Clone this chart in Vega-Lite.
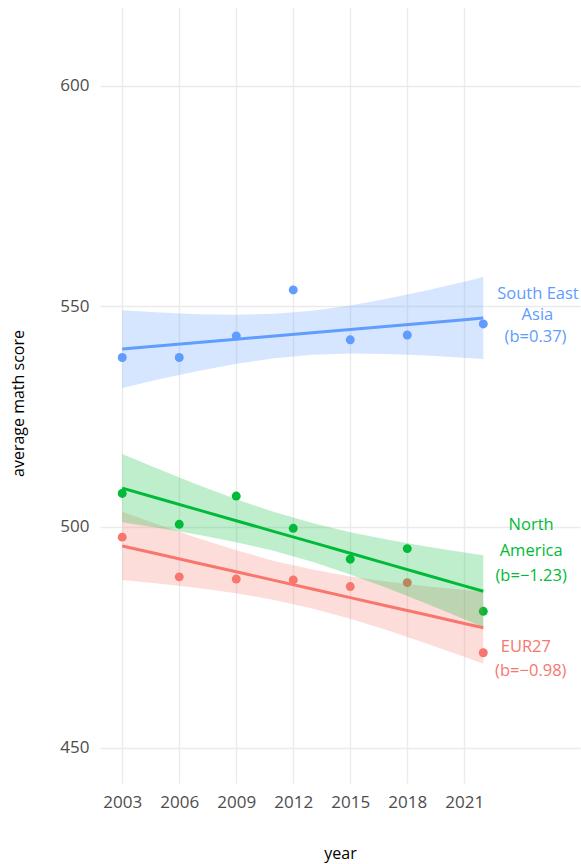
{
  "$schema": "https://vega.github.io/schema/vega-lite/v6.json",
  "width": 480,
  "height": 776,
  "autosize": {"type": "none"},
  "padding": {"left": 100, "top": 7, "right": 1, "bottom": 81},
  "background": "#ffffff",
  "config": {
    "view": {"stroke": null},
    "font": "Open Sans",
    "axis": {
      "grid": true,
      "gridColor": "#EBEBEB",
      "gridWidth": 1.4,
      "domain": false,
      "ticks": false,
      "tickSize": 0,
      "labelFont": "Open Sans",
      "labelFontSize": 17,
      "labelColor": "#4D4D4D",
      "titleFont": "Open Sans",
      "titleFontSize": 16,
      "titleFontWeight": "normal",
      "titleColor": "#000000"
    }
  },
  "datasets": {
    "pts": [
      {"region": "EUR27", "year": 2003, "score": 497.7},
      {"region": "EUR27", "year": 2006, "score": 488.7},
      {"region": "EUR27", "year": 2009, "score": 488.2},
      {"region": "EUR27", "year": 2012, "score": 488.0},
      {"region": "EUR27", "year": 2015, "score": 486.5},
      {"region": "EUR27", "year": 2018, "score": 487.4},
      {"region": "EUR27", "year": 2022, "score": 471.5},
      {"region": "North America", "year": 2003, "score": 507.6},
      {"region": "North America", "year": 2006, "score": 500.6},
      {"region": "North America", "year": 2009, "score": 507.0},
      {"region": "North America", "year": 2012, "score": 499.7},
      {"region": "North America", "year": 2015, "score": 492.7},
      {"region": "North America", "year": 2018, "score": 495.1},
      {"region": "North America", "year": 2022, "score": 480.9},
      {"region": "South East Asia", "year": 2003, "score": 538.4},
      {"region": "South East Asia", "year": 2006, "score": 538.4},
      {"region": "South East Asia", "year": 2009, "score": 543.3},
      {"region": "South East Asia", "year": 2012, "score": 553.7},
      {"region": "South East Asia", "year": 2015, "score": 542.4},
      {"region": "South East Asia", "year": 2018, "score": 543.5},
      {"region": "South East Asia", "year": 2022, "score": 546.0}
    ],
    "fits": [
      {"region": "EUR27", "year": 2003, "fit": 495.70, "lo": 487.97, "hi": 503.43},
      {"region": "EUR27", "year": 2005, "fit": 493.75, "lo": 487.13, "hi": 500.37},
      {"region": "EUR27", "year": 2007, "fit": 491.80, "lo": 486.16, "hi": 497.44},
      {"region": "EUR27", "year": 2009, "fit": 489.85, "lo": 484.98, "hi": 494.72},
      {"region": "EUR27", "year": 2011, "fit": 487.90, "lo": 483.48, "hi": 492.32},
      {"region": "EUR27", "year": 2013, "fit": 485.95, "lo": 481.56, "hi": 490.34},
      {"region": "EUR27", "year": 2015, "fit": 484.00, "lo": 479.22, "hi": 488.78},
      {"region": "EUR27", "year": 2017, "fit": 482.05, "lo": 476.53, "hi": 487.57},
      {"region": "EUR27", "year": 2019, "fit": 480.10, "lo": 473.63, "hi": 486.57},
      {"region": "EUR27", "year": 2021, "fit": 478.15, "lo": 470.59, "hi": 485.71},
      {"region": "EUR27", "year": 2022, "fit": 477.18, "lo": 469.03, "hi": 485.33},
      {"region": "North America", "year": 2003, "fit": 508.80, "lo": 501.07, "hi": 516.53},
      {"region": "North America", "year": 2005, "fit": 506.34, "lo": 499.72, "hi": 512.96},
      {"region": "North America", "year": 2007, "fit": 503.88, "lo": 498.24, "hi": 509.52},
      {"region": "North America", "year": 2009, "fit": 501.42, "lo": 496.55, "hi": 506.29},
      {"region": "North America", "year": 2011, "fit": 498.96, "lo": 494.54, "hi": 503.38},
      {"region": "North America", "year": 2013, "fit": 496.50, "lo": 492.11, "hi": 500.89},
      {"region": "North America", "year": 2015, "fit": 494.04, "lo": 489.26, "hi": 498.82},
      {"region": "North America", "year": 2017, "fit": 491.58, "lo": 486.06, "hi": 497.10},
      {"region": "North America", "year": 2019, "fit": 489.12, "lo": 482.65, "hi": 495.59},
      {"region": "North America", "year": 2021, "fit": 486.66, "lo": 479.10, "hi": 494.22},
      {"region": "North America", "year": 2022, "fit": 485.43, "lo": 477.28, "hi": 493.58},
      {"region": "South East Asia", "year": 2003, "fit": 540.30, "lo": 531.50, "hi": 549.10},
      {"region": "South East Asia", "year": 2005, "fit": 541.04, "lo": 533.50, "hi": 548.58},
      {"region": "South East Asia", "year": 2007, "fit": 541.78, "lo": 535.36, "hi": 548.20},
      {"region": "South East Asia", "year": 2009, "fit": 542.52, "lo": 536.97, "hi": 548.07},
      {"region": "South East Asia", "year": 2011, "fit": 543.26, "lo": 538.23, "hi": 548.29},
      {"region": "South East Asia", "year": 2013, "fit": 544.00, "lo": 539.00, "hi": 549.00},
      {"region": "South East Asia", "year": 2015, "fit": 544.74, "lo": 539.29, "hi": 550.19},
      {"region": "South East Asia", "year": 2017, "fit": 545.48, "lo": 539.20, "hi": 551.76},
      {"region": "South East Asia", "year": 2019, "fit": 546.22, "lo": 538.85, "hi": 553.59},
      {"region": "South East Asia", "year": 2021, "fit": 546.96, "lo": 538.34, "hi": 555.58},
      {"region": "South East Asia", "year": 2022, "fit": 547.33, "lo": 538.05, "hi": 556.61}
    ],
    "labels": [
      {"region": "South East Asia", "year": 2024.88, "value": 552.87, "text": "South East"},
      {"region": "South East Asia", "year": 2024.85, "value": 548.04, "text": "Asia"},
      {"region": "South East Asia", "year": 2024.75, "value": 543.12, "text": "(b=0.37)"},
      {"region": "North America", "year": 2024.52, "value": 500.45, "text": "North"},
      {"region": "North America", "year": 2024.52, "value": 494.63, "text": "America"},
      {"region": "North America", "year": 2024.52, "value": 488.9, "text": "(b=−1.23)"},
      {"region": "EUR27", "year": 2024.24, "value": 472.81, "text": "EUR27"},
      {"region": "EUR27", "year": 2024.5, "value": 467.44, "text": "(b=−0.98)"}
    ]
  },
  "layer": [
    {
      "data": {"name": "pts"},
      "mark": {"type": "point", "filled": true, "size": 80, "opacity": 1, "strokeWidth": 0},
      "encoding": {
        "x": {"field": "year", "type": "quantitative", "title": "year",
              "scale": {"domain": [2001.83, 2027.09], "nice": false, "zero": false},
              "axis": {"values": [2003, 2006, 2009, 2012, 2015, 2018, 2021], "format": "d",
                       "labelBaseline": "alphabetic", "labelPadding": 24, "labelFlush": false, "labelOverlap": false,
                       "titleX": 240, "titleY": 75, "titleBaseline": "alphabetic", "titleAlign": "center"}},
        "y": {"field": "score", "type": "quantitative", "title": "average math score",
              "scale": {"domain": [442.0, 617.8], "nice": false, "zero": false},
              "axis": {"values": [450, 500, 550, 600], "labelPadding": 11, "labelBaseline": "middle",
                       "titleX": -77, "titleY": 396, "titleAngle": -90, "titleBaseline": "alphabetic", "titleAlign": "center"}},
        "color": {"field": "region", "type": "nominal", "legend": null,
                  "scale": {"domain": ["EUR27", "North America", "South East Asia"], "range": ["#F8766D", "#00BA38", "#619CFF"]}}
      }
    },
    {
      "data": {"name": "fits"},
      "mark": {"type": "area", "opacity": 0.25},
      "encoding": {
        "x": {"field": "year", "type": "quantitative", "title": "year"},
        "y": {"field": "lo", "type": "quantitative", "title": "average math score"},
        "y2": {"field": "hi"},
        "color": {"field": "region", "type": "nominal", "legend": null}
      }
    },
    {
      "data": {"name": "fits"},
      "mark": {"type": "line", "strokeWidth": 3},
      "encoding": {
        "x": {"field": "year", "type": "quantitative", "title": "year"},
        "y": {"field": "fit", "type": "quantitative", "title": "average math score"},
        "color": {"field": "region", "type": "nominal", "legend": null}
      }
    },
    {
      "data": {"name": "labels"},
      "mark": {"type": "text", "fontSize": 16.5, "font": "Open Sans", "align": "center", "baseline": "middle"},
      "encoding": {
        "x": {"field": "year", "type": "quantitative", "title": "year"},
        "y": {"field": "value", "type": "quantitative", "title": "average math score"},
        "text": {"field": "text"},
        "color": {"field": "region", "type": "nominal", "legend": null}
      }
    }
  ]
}
